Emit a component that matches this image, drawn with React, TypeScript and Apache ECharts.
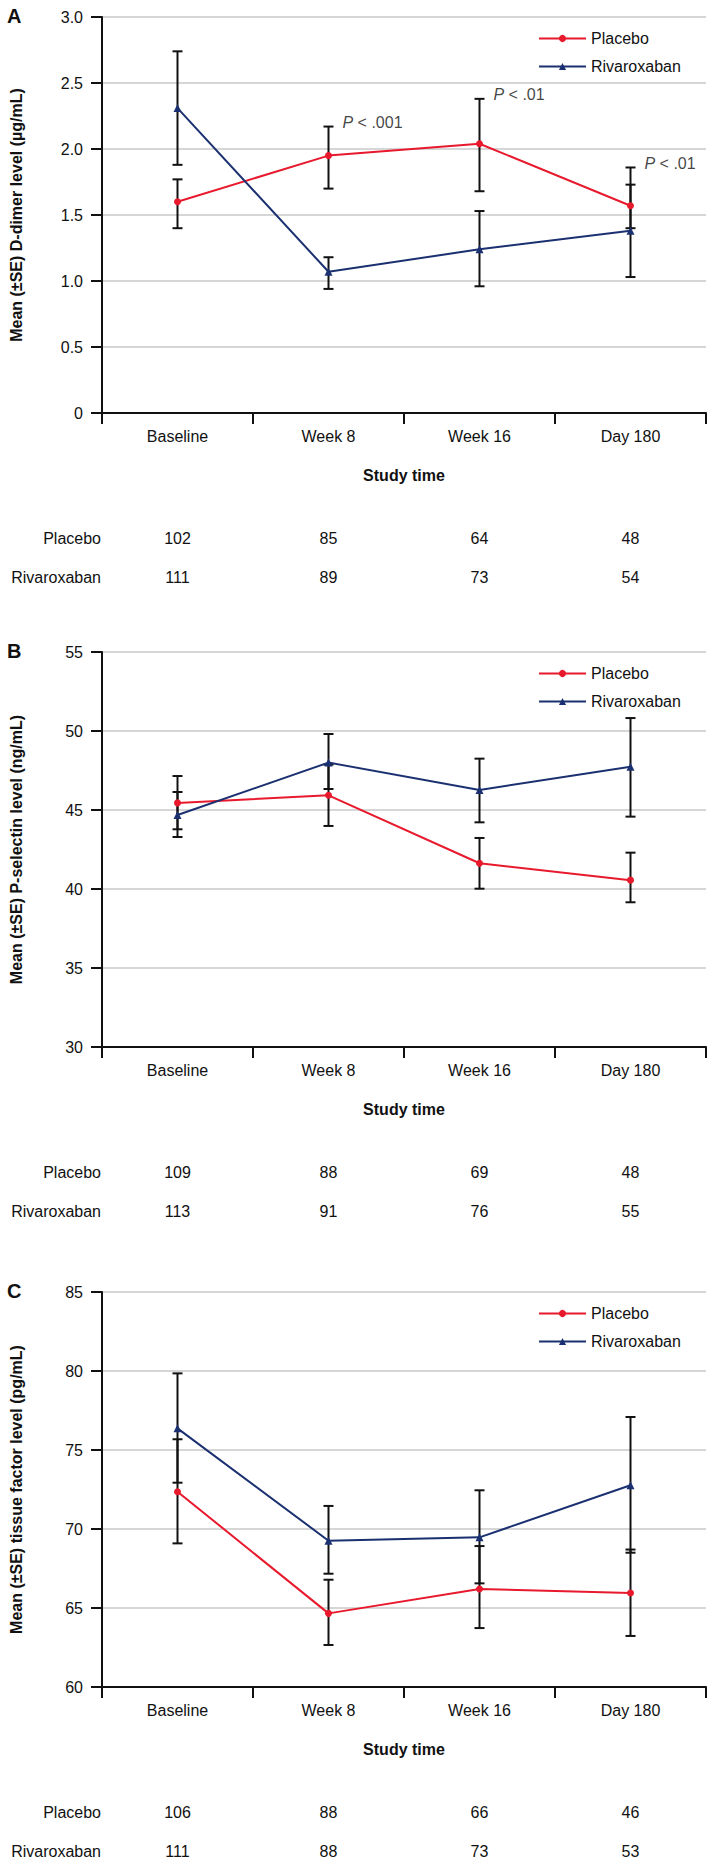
import React, { useEffect, useRef } from 'react';
import * as echarts from 'echarts';

const categories = ['Baseline', 'Week 8', 'Week 16', 'Day 180'];
const groupNames = ['Placebo', 'Rivaroxaban'];

// Panel A – D-dimer (µg/mL)
const dDimerPlacebo = [1.6, 1.95, 2.04, 1.57];
const dDimerPlaceboLow = [1.4, 1.7, 1.68, 1.4];
const dDimerPlaceboHigh = [1.77, 2.17, 2.38, 1.73];
const dDimerRiva = [2.31, 1.07, 1.24, 1.38];
const dDimerRivaLow = [1.88, 0.94, 0.96, 1.03];
const dDimerRivaHigh = [2.74, 1.18, 1.53, 1.86];
const dDimerPValues = ['', '< .001', '< .01', '< .01'];
const dDimerNPlacebo = [102, 85, 64, 48];
const dDimerNRiva = [111, 89, 73, 54];

// Panel B – P-selectin (ng/mL)
const pSelPlacebo = [45.45, 45.93, 41.63, 40.56];
const pSelPlaceboLow = [43.78, 43.99, 40.02, 39.16];
const pSelPlaceboHigh = [47.15, 47.87, 43.23, 42.3];
const pSelRiva = [44.68, 48.0, 46.27, 47.74];
const pSelRivaLow = [43.29, 46.33, 44.22, 44.58];
const pSelRivaHigh = [46.14, 49.81, 48.25, 50.82];
const pSelPValues = ['', '', '', ''];
const pSelNPlacebo = [109, 88, 69, 48];
const pSelNRiva = [113, 91, 76, 55];

// Panel C – tissue factor (pg/mL)
const tfPlacebo = [72.36, 64.66, 66.2, 65.95];
const tfPlaceboLow = [69.09, 62.66, 63.73, 63.23];
const tfPlaceboHigh = [75.68, 66.79, 68.92, 68.7];
const tfRiva = [76.37, 69.26, 69.47, 72.77];
const tfRivaLow = [72.93, 67.17, 66.56, 68.5];
const tfRivaHigh = [79.85, 71.46, 72.45, 77.09];
const tfPValues = ['', '', '', ''];
const tfNPlacebo = [106, 88, 66, 46];
const tfNRiva = [111, 88, 73, 53];

// Axis ranges
const axisA = { min: 0, max: 3, interval: 0.5 };
const axisB = { min: 30, max: 55, interval: 5 };
const axisC = { min: 60, max: 85, interval: 5 };

const panels = [
  {
    letter: 'A', yName: 'Mean (±SE) D-dimer level (µg/mL)', axis: axisA, decimals: true,
    placebo: dDimerPlacebo, placeboLow: dDimerPlaceboLow, placeboHigh: dDimerPlaceboHigh,
    riva: dDimerRiva, rivaLow: dDimerRivaLow, rivaHigh: dDimerRivaHigh,
    pValues: dDimerPValues, nPlacebo: dDimerNPlacebo, nRiva: dDimerNRiva,
  },
  {
    letter: 'B', yName: 'Mean (±SE) P-selectin level (ng/mL)', axis: axisB, decimals: false,
    placebo: pSelPlacebo, placeboLow: pSelPlaceboLow, placeboHigh: pSelPlaceboHigh,
    riva: pSelRiva, rivaLow: pSelRivaLow, rivaHigh: pSelRivaHigh,
    pValues: pSelPValues, nPlacebo: pSelNPlacebo, nRiva: pSelNRiva,
  },
  {
    letter: 'C', yName: 'Mean (±SE) tissue factor level (pg/mL)', axis: axisC, decimals: false,
    placebo: tfPlacebo, placeboLow: tfPlaceboLow, placeboHigh: tfPlaceboHigh,
    riva: tfRiva, rivaLow: tfRivaLow, rivaHigh: tfRivaHigh,
    pValues: tfPValues, nPlacebo: tfNPlacebo, nRiva: tfNRiva,
  },
];

const RED = '#E8192C';
const NAVY = '#1B3070';
const TEXT = '#111111';
const FONT = "'Liberation Sans', Arial, Helvetica, sans-serif";

const gridTops = [17, 652, 1292];
const gridHeights = [396, 395, 395];
const GRID_LEFT = 99;
const GRID_WIDTH = 607;

function errorRenderItem(params: any, api: any) {
  const x = api.value(0);
  const lo = api.value(1);
  const hi = api.value(2);
  const top = api.coord([x, hi]);
  const bot = api.coord([x, lo]);
  const hw = 5;
  const style = { stroke: '#111', lineWidth: 2 };
  return {
    type: 'group',
    children: [
      { type: 'line', shape: { x1: top[0], y1: top[1], x2: bot[0], y2: bot[1] }, style },
      { type: 'line', shape: { x1: top[0] - hw, y1: top[1], x2: top[0] + hw, y2: top[1] }, style },
      { type: 'line', shape: { x1: bot[0] - hw, y1: bot[1], x2: bot[0] + hw, y2: bot[1] }, style },
    ],
  };
}

function buildOption() {
  const grid: any[] = [];
  const xAxis: any[] = [];
  const yAxis: any[] = [];
  const series: any[] = [];
  const legend: any[] = [];
  const graphic: any[] = [];

  panels.forEach((p, k) => {
    const top = gridTops[k];
    grid.push({ left: GRID_LEFT, top, width: GRID_WIDTH, height: gridHeights[k], containLabel: false });

    // main category axis
    xAxis.push({
      type: 'category', gridIndex: k, data: categories, boundaryGap: true,
      axisLine: { show: true, lineStyle: { color: '#111', width: 2 } },
      axisTick: { show: true, length: 11, lineStyle: { color: '#111', width: 2 } },
      axisLabel: { color: TEXT, fontSize: 16, margin: 15, fontFamily: FONT },
      name: 'Study time', nameLocation: 'middle', nameGap: 54,
      nameTextStyle: { color: TEXT, fontSize: 16, fontWeight: 'bold', fontFamily: FONT },
    });
    // N rows as extra axes
    [
      { name: groupNames[0], data: p.nPlacebo, offset: 125 },
      { name: groupNames[1], data: p.nRiva, offset: 164 },
    ].forEach((row) => {
      xAxis.push({
        type: 'category', gridIndex: k, data: row.data.map(String), boundaryGap: true,
        position: 'bottom', offset: row.offset,
        axisLine: { show: false }, axisTick: { show: false }, splitLine: { show: false },
        axisLabel: { color: TEXT, fontSize: 16, margin: 0, verticalAlign: 'middle', fontFamily: FONT },
        name: row.name, nameLocation: 'start', nameGap: 1,
        nameTextStyle: { color: TEXT, fontSize: 16, align: 'right', verticalAlign: 'middle', fontFamily: FONT },
      });
    });

    yAxis.push({
      type: 'value', gridIndex: k, min: p.axis.min, max: p.axis.max, interval: p.axis.interval,
      axisLine: { show: true, lineStyle: { color: '#111', width: 2 } },
      axisTick: { show: true, length: 11, lineStyle: { color: '#111', width: 2 } },
      splitLine: { show: true, lineStyle: { color: '#c8c8c8', width: 1.5 } },
      axisLabel: {
        color: TEXT, fontSize: 16, margin: 19, fontFamily: FONT,
        formatter: (v: number) => (p.decimals ? (v === 0 ? '0' : v.toFixed(1)) : String(v)),
      },
      name: p.yName, nameLocation: 'middle', nameGap: 78,
      nameTextStyle: { color: TEXT, fontSize: 16, fontWeight: 'bold', fontFamily: FONT },
    });

    const xi = k * 3;
    const errData = (lo: number[], hi: number[]) => lo.map((l, i) => [i, l, hi[i]]);
    series.push({
      type: 'custom', name: 'errPlacebo' + k, xAxisIndex: xi, yAxisIndex: k,
      renderItem: errorRenderItem, data: errData(p.placeboLow, p.placeboHigh),
      encode: { x: 0, y: [1, 2] }, z: 1, silent: true,
    });
    series.push({
      type: 'custom', name: 'errRiva' + k, xAxisIndex: xi, yAxisIndex: k,
      renderItem: errorRenderItem, data: errData(p.rivaLow, p.rivaHigh),
      encode: { x: 0, y: [1, 2] }, z: 1, silent: true,
    });
    series.push({
      type: 'line', name: groupNames[0], xAxisIndex: xi, yAxisIndex: k, data: p.placebo,
      symbol: 'circle', symbolSize: 7, z: 3,
      lineStyle: { color: RED, width: 2 }, itemStyle: { color: RED },
    });
    series.push({
      type: 'line', name: groupNames[1], xAxisIndex: xi, yAxisIndex: k, data: p.riva,
      symbol: 'triangle', symbolSize: 8, z: 4,
      lineStyle: { color: NAVY, width: 2 }, itemStyle: { color: NAVY },
    });

    const pData = p.pValues
      .map((t, i) => (t ? { value: [i, Math.max(p.placeboHigh[i], p.rivaHigh[i])], text: t } : null))
      .filter(Boolean);
    if (pData.length) {
      series.push({
        type: 'scatter', name: 'pvals' + k, xAxisIndex: xi, yAxisIndex: k,
        symbolSize: 0, silent: true, z: 5,
        data: pData,
        label: {
          show: true, position: 'right', distance: 14, offset: [0, -4],
          formatter: (d: any) => '{i|P}{n| ' + d.data.text + '}',
          rich: {
            i: { fontStyle: 'italic', fontSize: 16, color: TEXT, fontFamily: FONT },
            n: { fontSize: 16, color: TEXT, fontFamily: FONT },
          },
        },
      });
    }

    legend.push({
      orient: 'vertical', left: 533, top: top + 8.5,
      itemWidth: 47, itemHeight: 9, itemGap: 12,
      data: groupNames,
      textStyle: { color: TEXT, fontSize: 16, fontFamily: FONT },
      selectedMode: false,
    });

    graphic.push({
      type: 'text', left: 7, top: top - 11,
      style: { text: p.letter, fill: '#111', font: 'bold 20px ' + FONT },
    });
  });

  return {
    animation: false,
    textStyle: { fontFamily: FONT },
    grid, xAxis, yAxis, series, legend, graphic,
  };
}

export default function App() {
  const ref = useRef<HTMLDivElement>(null);
  useEffect(() => {
    if (!ref.current) return;
    const chart = echarts.init(ref.current, undefined, { renderer: 'svg' });
    chart.setOption(buildOption() as any);
    return () => chart.dispose();
  }, []);
  return (
    <div
      ref={ref}
      style={{ position: 'absolute', left: 0, top: 0, width: 709, height: 1862, background: '#fff' }}
    />
  );
}
